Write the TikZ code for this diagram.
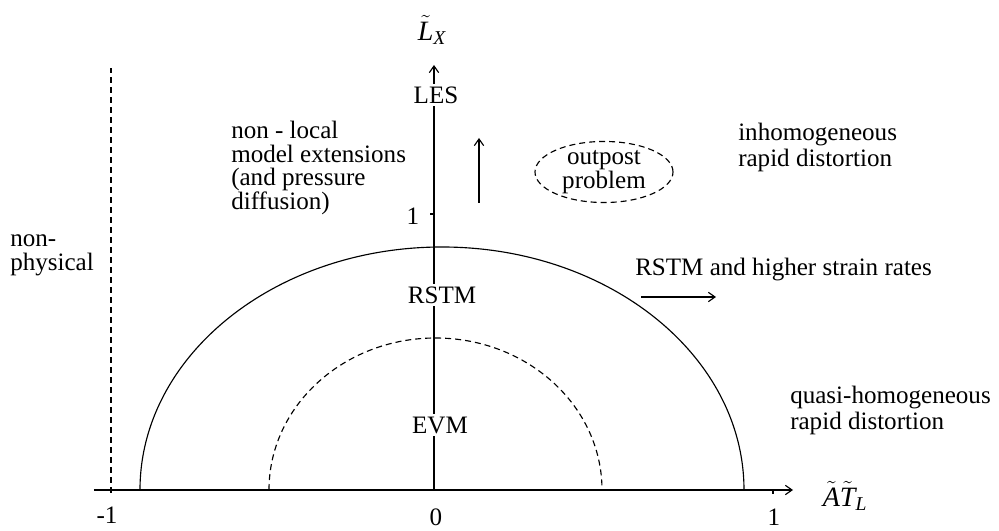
\documentclass[tikz,border=0pt]{standalone}
\usepackage{fontspec}
\setmainfont{Liberation Serif}
\usepackage{amsmath}
\usetikzlibrary{arrows.meta, positioning, calc, shapes.geometric}
\tikzset{>={Straight Barb[length=5pt,width=7pt]}}

\begin{document}
\begin{tikzpicture}[x=0.75pt,y=0.75pt,
    axis/.style={line width=0.85pt},
    dashline/.style={line width=0.85pt, dash pattern=on 4.5pt off 3pt},
    lbl/.style={font=\fontsize{18.8}{17.8}\selectfont, inner sep=0pt},
    region/.style={lbl, anchor=west, align=left},
    widegap/.style={font=\fontsize{18.8}{19.5}\selectfont},
    onaxis/.style={lbl, fill=white, inner sep=2pt}
  ]

  %%%%%%%%%%%%%%%%%%%%%%%%%%%%%%%%%%%%%%%%%%%%%%%%%%%%%%%%%%%%%%%%%%%%%%
  % Parameter
  %%%%%%%%%%%%%%%%%%%%%%%%%%%%%%%%%%%%%%%%%%%%%%%%%%%%%%%%%%%%%%%%%%%%%%
  \def\xmin{-340}
  \def\xmax{359}
  \def\ymax{425}
  \def\xone{339}
  \def\yone{276}
  \def\xnp{-323}

  \useasboundingbox (-434,-41) rectangle (565,490);

  \coordinate (O)     at (0,0);
  \coordinate (Xstart) at (\xmin,0);
  \coordinate (Xend)  at (\xmax,0);
  \coordinate (Ytop)  at (0,\ymax);

  %%%%%%%%%%%%%%%%%%%%%%%%%%%%%%%%%%%%%%%%%%%%%%%%%%%%%%%%%%%%%%%%%%%%%%
  % Achsen
  %%%%%%%%%%%%%%%%%%%%%%%%%%%%%%%%%%%%%%%%%%%%%%%%%%%%%%%%%%%%%%%%%%%%%%
  \draw[axis,->] (Xstart) -- (Xend);
  \draw[axis,->] (O) -- (Ytop);

  \node[lbl, font=\fontsize{21}{21}\selectfont] (Ly) at (-2,460)
    {$\tilde{\mathit{L}}_{\mathit{X}}$};
  \node[lbl, font=\fontsize{21}{21}\selectfont] (ATx) at (411,-6)
    {$\tilde{\mathit{A}}\tilde{\mathit{T}}_{\mathit{L}}$};

  % Ticks
  \draw[axis] (\xone,0) -- ++(0,-4);
  \draw[axis] (-4,\yone) -- (0,\yone);

  \node[lbl] (tm1) at (-327,-25) {-1};
  \node[lbl] (t0)  at (2,-27) {0};
  \node[lbl] (t1)  at (340,-27) {1};
  \node[lbl] (ty1) at (-21,274) {1};

  % nicht-physikalische Grenze
  \coordinate (NPbot) at (\xnp,-3);
  \coordinate (NPtop) at (\xnp,422);
  \draw[dashline] (NPbot) -- (NPtop);

  %%%%%%%%%%%%%%%%%%%%%%%%%%%%%%%%%%%%%%%%%%%%%%%%%%%%%%%%%%%%%%%%%%%%%%
  % Halbellipsen
  %%%%%%%%%%%%%%%%%%%%%%%%%%%%%%%%%%%%%%%%%%%%%%%%%%%%%%%%%%%%%%%%%%%%%%
  \draw[axis] (-294,0) arc[start angle=180, end angle=0, x radius=302, y radius=243];
  \draw[dashline] (-165,0) arc[start angle=180, end angle=0, x radius=166.5, y radius=152];

  %%%%%%%%%%%%%%%%%%%%%%%%%%%%%%%%%%%%%%%%%%%%%%%%%%%%%%%%%%%%%%%%%%%%%%
  % Beschriftung auf der Achse
  %%%%%%%%%%%%%%%%%%%%%%%%%%%%%%%%%%%%%%%%%%%%%%%%%%%%%%%%%%%%%%%%%%%%%%
  \node[onaxis] (les)  at (2,395) {LES};
  \node[onaxis] (rstm) at (8,195) {RSTM};
  \node[onaxis] (evm)  at (6,65)  {EVM};

  %%%%%%%%%%%%%%%%%%%%%%%%%%%%%%%%%%%%%%%%%%%%%%%%%%%%%%%%%%%%%%%%%%%%%%
  % Bereiche
  %%%%%%%%%%%%%%%%%%%%%%%%%%%%%%%%%%%%%%%%%%%%%%%%%%%%%%%%%%%%%%%%%%%%%%
  \node[region] (nonphys) at (-424,235) {non-\\physical};
  \node[region] (nonlocal) at (-203,322)
    {non - local\\model extensions\\(and pressure\\diffusion)};
  \node[region, widegap] (inhom) at (304,343) {inhomogeneous\\rapid distortion};
  \node[region, widegap] (quasi) at (356,80) {quasi-homogeneous\\rapid distortion};
  \node[region] (higher) at (201,220) {RSTM and higher strain rates};

  \node[lbl, align=center, draw, dashline, ellipse, minimum width=138pt*0.75,
        minimum height=58pt*0.75] (outpost) at (170,318) {outpost\\problem};

  % Pfeile
  \coordinate (UpStart) at (45,287);
  \coordinate (UpEnd)   at (45,352);
  \draw[axis,->] (UpStart) -- (UpEnd);

  \coordinate (RightStart) at (207,193);
  \coordinate (RightEnd)   at (282,193);
  \draw[axis,->] (RightStart) -- (RightEnd);

\end{tikzpicture}
\end{document}
